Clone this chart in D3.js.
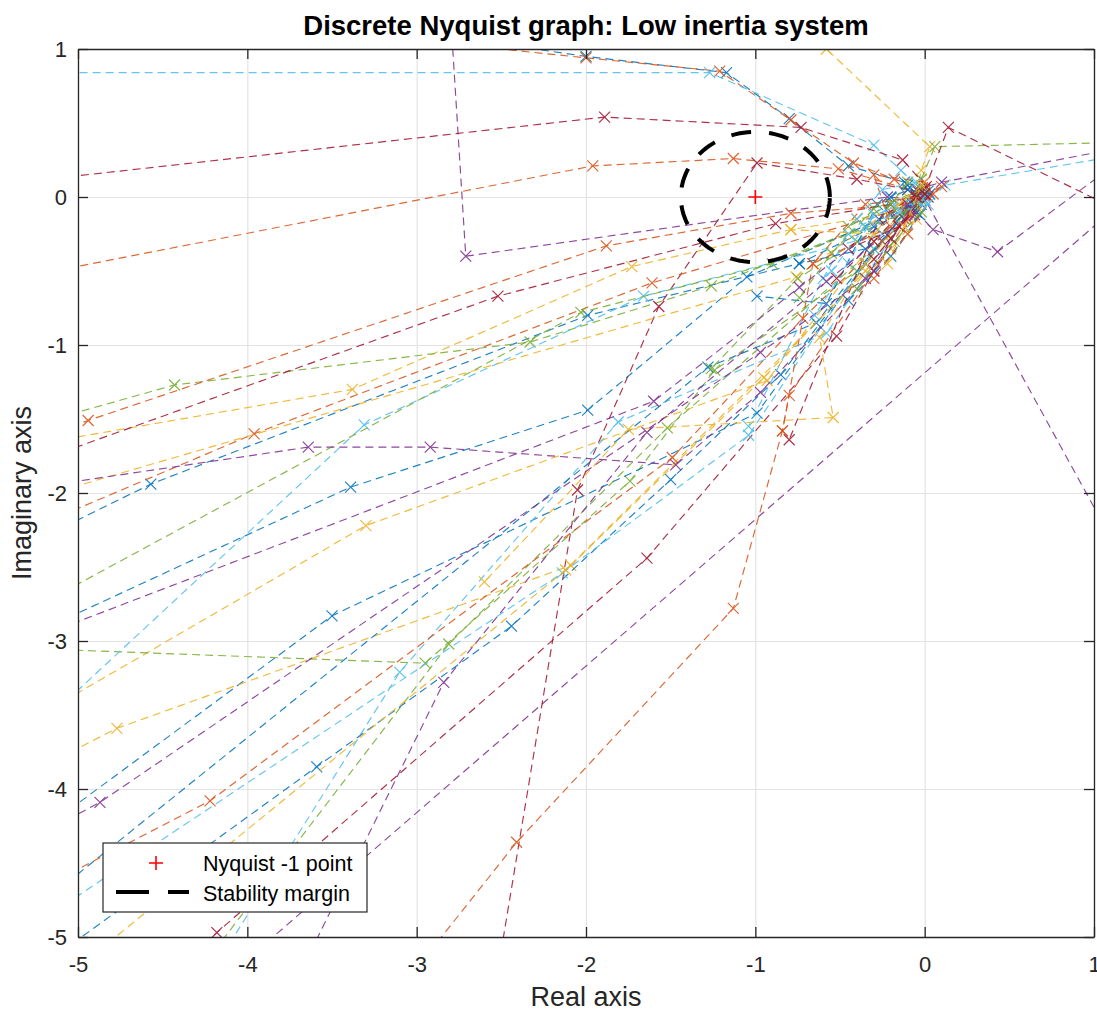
<!DOCTYPE html>
<html>
<head>
<meta charset="utf-8">
<script src="https://cdn.jsdelivr.net/npm/d3@7"></script>
<style>
  body { margin: 0; background: #fff; }
  svg { font-family: "Liberation Sans", Arial, Helvetica, sans-serif; }
</style>
</head>
<body>
<div id="chart"></div>
<script>
const WIDTH = 1097, HEIGHT = 1012;
const MARGIN = { top: 49, right: 3, bottom: 75, left: 78 };
const PLOT_W = WIDTH - MARGIN.left - MARGIN.right;
const PLOT_H = HEIGHT - MARGIN.top - MARGIN.bottom;

const TITLE = 'Discrete Nyquist graph: Low inertia system';
const X_LABEL = 'Real axis';
const Y_LABEL = 'Imaginary axis';
const LEGEND_LABELS = ['Nyquist -1 point', 'Stability margin'];

const xTicks = [-5, -4, -3, -2, -1, 0, 1];
const yTicks = [-5, -4, -3, -2, -1, 0, 1];

// matlab default colour order, one colour per run, cycling
const LINE_COLORS = ['#0072BD', '#D95319', '#EDB120', '#7E2F8E', '#77AC30', '#4DBEEE', '#A2142F'];

const criticalPoint = [-1, 0];
const marginRadius = 0.44;

// nyquist runs [re, im] (inner point first)
const run01 = [[0.02, 0.04], [-0.12, 0.10], [-0.45, 0.21], [-0.80, 0.53], [-1.17, 0.84], [-2.0, 0.95], [-2.6, 1.05]];
const run02 = [[0.0, 0.06], [-0.18, 0.12], [-0.42, 0.23], [-0.79, 0.52], [-1.21, 0.85], [-2.0, 0.94], [-3.0, 1.06]];
const run03 = [[-0.05, 0.02], [-0.02, 0.18], [0.03, 0.34], [-0.58, 1.0], [-0.75, 1.17]];
const run04 = [[0.0, -0.02], [-0.22, 0.0], [-2.71, -0.40], [-2.82, 1.6]];
const run05 = [[-0.08, -0.04], [-0.02, 0.12], [0.06, 0.34], [1.2, 0.37]];
const run06 = [[0.0, 0.03], [-0.14, 0.18], [-0.30, 0.35], [-1.27, 0.84], [-5.5, 0.84]];
const run07 = [[0.01, 0.07], [-0.13, 0.25], [-0.73, 0.47], [-1.89, 0.54], [-5.5, 0.08]];

const run08 = [[-0.02, -0.05], [-0.30, -0.20], [-0.74, -0.45], [-1.99, -0.80], [-4.57, -1.94], [-5.3, -2.35]];
const run09 = [[-0.03, 0.03], [-0.51, 0.19], [-1.13, 0.26], [-1.96, 0.21], [-5.5, -0.58]];
const run10 = [[-0.10, -0.08], [-0.40, -0.15], [-0.79, -0.22], [-1.73, -0.47], [-3.38, -1.30], [-5.3, -1.68]];
const run11 = [[1.2, 0.0], [-4.0, -5.15]];
const run12 = [[-0.05, -0.03], [-0.35, -0.20], [-1.26, -0.60], [-2.33, -0.98], [-4.43, -1.27], [-5.3, -1.55]];
const run13 = [[0.0, 0.0], [0.12, 0.08], [1.1, 0.27]];
const run14 = [[-0.10, 0.05], [-0.40, 0.12], [-0.99, 0.23], [-1.57, -0.74], [-2.05, -1.98], [-2.56, -5.5]];

const run15 = [[-0.05, 0.01], [-0.20, -0.12], [-1.05, -0.54], [-1.99, -1.44], [-3.39, -1.96], [-5.3, -2.97]];
const run16 = [[-0.12, -0.05], [-0.79, -0.11], [-1.88, -0.33], [-4.94, -1.51], [-5.4, -1.69]];
const run17 = [[-0.06, -0.02], [-0.30, -0.30], [-0.93, -1.24], [-3.30, -2.22], [-5.3, -3.55]];
const run18 = [[-0.02, 0.03], [1.05, -2.2]];
const run19 = [[-0.08, -0.06], [-0.40, -0.50], [-1.24, -1.17], [-1.74, -1.92], [-2.95, -3.15], [-5.3, -3.05]];
const run20 = [[-0.04, -0.02], [-0.25, -0.25], [-1.66, -0.67], [-3.31, -1.54], [-5.3, -3.65]];
const run21 = [[-0.10, -0.10], [-0.52, -0.94], [-1.64, -2.44], [-4.18, -4.97], [-4.6, -5.4]];

const run22 = [[-0.06, -0.03], [-0.25, -0.30], [-0.99, -1.46], [-3.50, -2.83], [-5.3, -4.35]];
const run23 = [[-0.02, 0.0], [-0.20, -0.10], [-1.61, -0.58], [-3.96, -1.60], [-5.3, -2.25]];
const run24 = [[-0.10, -0.12], [-0.35, -0.50], [-0.95, -1.22], [-2.09, -2.49], [-4.77, -3.59], [-5.3, -3.9]];
const run25 = [[-0.05, -0.10], [0.05, -0.22], [0.43, -0.37], [1.1, 0.2]];
const run26 = [[-0.06, -0.10], [-0.30, -0.35], [-1.52, -1.56], [-2.81, -3.02], [-4.4, -5.4]];
const run27 = [[-0.15, -0.20], [-0.58, -0.92], [-1.81, -1.52], [-3.10, -3.21], [-4.3, -5.4]];
const run28 = [[0.0, 0.05], [0.14, 0.47], [1.2, -0.12]];

const run29 = [[-0.08, -0.04], [-0.35, -0.45], [-0.85, -1.20], [-1.50, -1.91], [-2.44, -2.90], [-3.59, -3.85], [-5.1, -5.1]];
const run30 = [[-0.10, -0.15], [-0.30, -0.50], [-0.80, -1.34], [-0.84, -1.58], [-1.13, -2.78], [-2.41, -4.36], [-3.2, -5.5]];
const run31 = [[-0.10, 0.0], [-0.76, -0.54], [-5.3, -2.05]];
const run32 = [[-0.05, 0.05], [0.10, 0.10], [1.1, 0.32]];
const run33 = [[-0.10, -0.10], [-0.90, -0.45], [-2.03, -0.78], [-5.3, -2.8]];
const run34 = [[-0.05, -0.08], [-0.30, -0.35], [-1.04, -1.61], [-2.14, -2.54], [-5.3, -4.95]];
const run35 = [[-0.20, -0.05], [-0.88, -0.18], [-2.52, -0.67], [-5.4, -1.85]];

const run36 = [[-0.05, 0.0], [-0.64, -0.85], [-1.28, -1.15], [-5.3, -4.85]];
const run37 = [[-0.08, -0.12], [-0.25, -0.30], [-0.72, -0.82], [-1.49, -1.76], [-4.22, -4.08], [-5.1, -4.6]];
const run38 = [[-0.05, -0.15], [-0.20, -0.35], [-2.12, -2.52], [-5.1, -5.3]];
const run39 = [[-0.06, -0.12], [-0.30, -0.50], [-0.97, -1.32], [-1.47, -1.81], [-2.92, -1.69], [-3.64, -1.69], [-5.3, -1.97]];
const run40 = [[-0.02, -0.02], [-0.15, -0.12], [-0.40, -0.30], [-0.75, -0.55], [-1.26, -1.16]];
const run41 = [[0.0, 0.01], [-0.18, -0.05], [-0.45, -0.25], [-0.60, -0.55], [-1.04, -1.55]];
const run42 = [[-0.05, 0.02], [-0.27, -0.15], [-0.80, -1.64]];

const run43 = [[0.03, 0.02], [-0.10, 0.05], [-0.28, -0.05], [-0.58, -0.72], [-0.99, -0.67]];
const run44 = [[0.10, 0.07], [-0.05, 0.0], [-0.35, -0.05], [-0.66, -0.45], [-0.84, -1.58]];
const run45 = [[-0.05, -0.05], [-0.35, -0.45], [-0.62, -0.95], [-0.54, -1.49], [-1.75, -1.57], [-2.6, -2.6]];
const run46 = [[-0.08, -0.08], [-0.35, -0.55], [-0.97, -1.05], [-4.87, -4.09], [-5.3, -4.35]];
const run47 = [[-0.02, 0.05], [-0.30, -0.08], [-0.55, -0.38], [-0.74, -0.68]];
const run48 = [[0.0, -0.02], [-0.30, -0.12], [-0.45, -0.45], [-0.65, -0.80]];
const run49 = [[-0.05, 0.0], [-0.30, -0.30], [-0.52, -0.55]];

const run50 = [[-0.10, 0.08], [-0.20, 0.0], [-0.35, -0.35], [-0.74, -0.45]];
const run51 = [[0.0, 0.10], [-0.30, 0.15], [-0.20, -0.20], [-0.66, -0.45]];
const run52 = [[-0.15, -0.05], [-0.30, -0.25], [-0.79, -0.22]];
const run53 = [[-0.12, -0.15], [-0.58, -0.57], [-1.64, -1.59], [-2.84, -3.28], [-3.8, -5.5]];
const run54 = [[-0.10, 0.10], [-0.20, -0.05], [-0.45, -0.20]];
const run55 = [[-0.05, 0.10], [-0.25, 0.05], [-0.40, -0.15]];
const run56 = [[0.02, 0.0], [-0.15, -0.20], [-0.45, -0.35]];

const run57 = [[-0.03, -0.12], [-0.20, -0.40], [-0.45, -0.70]];
const run58 = [[0.05, 0.02], [-0.10, -0.25], [-0.30, -0.55]];
const run59 = [[-0.02, 0.08], [-0.12, -0.20], [-0.22, -0.45]];
const run60 = [[-0.10, -0.05], [-0.74, -0.61], [-1.60, -1.38], [-5.3, -3.0]];
const run61 = [[-0.02, -0.10], [-0.18, -0.30], [-0.40, -0.62]];
const run62 = [[0.02, -0.05], [-0.15, -0.10], [-0.35, -0.20], [-0.55, -0.50]];
const run63 = [[0.0, 0.02], [-0.20, -0.28], [-0.30, -0.42]];

const runs = [
  run01, run02, run03, run04, run05, run06, run07,
  run08, run09, run10, run11, run12, run13, run14,
  run15, run16, run17, run18, run19, run20, run21,
  run22, run23, run24, run25, run26, run27, run28,
  run29, run30, run31, run32, run33, run34, run35,
  run36, run37, run38, run39, run40, run41, run42,
  run43, run44, run45, run46, run47, run48, run49,
  run50, run51, run52, run53, run54, run55, run56,
  run57, run58, run59, run60, run61, run62, run63
];

const svg = d3.select('#chart')
  .append('svg')
    .attr('width', WIDTH)
    .attr('height', HEIGHT);

const g = svg.append('g')
  .attr('transform', `translate(${MARGIN.left}, ${MARGIN.top})`);

const x = d3.scaleLinear().domain([-5, 1]).range([0, PLOT_W]);
const y = d3.scaleLinear().domain([-5, 1]).range([PLOT_H, 0]);

svg.append('defs').append('clipPath')
  .attr('id', 'plot-clip')
  .append('rect')
    .attr('width', PLOT_W)
    .attr('height', PLOT_H);

// grid
g.append('g')
  .attr('transform', `translate(0, ${PLOT_H})`)
  .call(d3.axisBottom(x).tickValues(xTicks).tickSize(-PLOT_H).tickFormat(''))
  .call(s => s.select('.domain').remove())
  .call(s => s.selectAll('text').remove())
  .selectAll('line').attr('stroke', '#e3e3e3').attr('stroke-width', 1.2);

g.append('g')
  .call(d3.axisLeft(y).tickValues(yTicks).tickSize(-PLOT_W).tickFormat(''))
  .call(s => s.select('.domain').remove())
  .call(s => s.selectAll('text').remove())
  .selectAll('line').attr('stroke', '#e3e3e3').attr('stroke-width', 1.2);

// nyquist runs
const plot = g.append('g').attr('clip-path', 'url(#plot-clip)');
const line = d3.line().x(d => x(d[0])).y(d => y(d[1]));
const colorOf = i => LINE_COLORS[i % LINE_COLORS.length];

runs.forEach((run, i) => {
  const runG = plot.append('g').attr('opacity', 0.88);
  runG.append('path')
    .attr('d', line(run))
    .attr('fill', 'none')
    .attr('stroke', colorOf(i))
    .attr('stroke-width', 1.15)
    .attr('stroke-dasharray', '8 5');
  runG.selectAll('path.mark')
    .data(run)
    .enter()
    .append('path')
      .attr('class', 'mark')
      .attr('transform', d => `translate(${x(d[0])}, ${y(d[1])})`)
      .attr('d', 'M-5.5,-5.5L5.5,5.5M-5.5,5.5L5.5,-5.5')
      .attr('fill', 'none')
      .attr('stroke', colorOf(i))
      .attr('stroke-width', 1.2);
});

// stability margin circle
const circlePts = d3.range(0, 361, 3).map(a => {
  const t = a * Math.PI / 180;
  return [criticalPoint[0] + marginRadius * Math.cos(t), criticalPoint[1] + marginRadius * Math.sin(t)];
});
plot.append('path')
  .attr('d', line(circlePts))
  .attr('fill', 'none')
  .attr('stroke', '#000')
  .attr('stroke-width', 4)
  .attr('stroke-dasharray', '20 18');

// -1 point
plot.append('path')
  .attr('transform', `translate(${x(criticalPoint[0])}, ${y(criticalPoint[1])})`)
  .attr('d', 'M-7,0H7M0,-7V7')
  .attr('stroke', '#ff0000')
  .attr('stroke-width', 1.6);

// axes, ticks inside on all four sides
const tickText = d => d < 0 ? '-' + Math.abs(d) : String(d);
const styleAxis = s => {
  s.select('.domain').attr('stroke', '#262626').attr('stroke-width', 1.3);
  s.selectAll('.tick line').attr('stroke', '#262626').attr('stroke-width', 1.3);
  s.selectAll('text').attr('fill', '#262626').attr('font-size', null).attr('font-family', null).style('font-size', '22px');
};

g.append('g')
  .attr('transform', `translate(0, ${PLOT_H})`)
  .call(d3.axisBottom(x).tickValues(xTicks).tickSizeInner(-10).tickSizeOuter(0).tickPadding(19).tickFormat(tickText))
  .call(styleAxis);

g.append('g')
  .call(d3.axisLeft(y).tickValues(yTicks).tickSizeInner(-10).tickSizeOuter(0).tickPadding(11).tickFormat(tickText))
  .call(styleAxis);

g.append('g')
  .call(d3.axisTop(x).tickValues(xTicks).tickSizeInner(-10).tickSizeOuter(0).tickFormat(''))
  .call(s => s.selectAll('text').remove())
  .call(styleAxis);

g.append('g')
  .attr('transform', `translate(${PLOT_W}, 0)`)
  .call(d3.axisRight(y).tickValues(yTicks).tickSizeInner(-10).tickSizeOuter(0).tickFormat(''))
  .call(s => s.selectAll('text').remove())
  .call(styleAxis);

// titles
svg.append('text')
  .attr('x', MARGIN.left + PLOT_W / 2)
  .attr('y', 35)
  .attr('text-anchor', 'middle')
  .attr('font-weight', 'bold')
  .attr('font-size', 27.5)
  .attr('fill', '#000')
  .text(TITLE);

svg.append('text')
  .attr('x', MARGIN.left + PLOT_W / 2)
  .attr('y', 1006)
  .attr('text-anchor', 'middle')
  .attr('font-size', 27)
  .attr('fill', '#262626')
  .text(X_LABEL);

svg.append('text')
  .attr('transform', `translate(31, ${MARGIN.top + PLOT_H / 2}) rotate(-90)`)
  .attr('text-anchor', 'middle')
  .attr('font-size', 27)
  .attr('fill', '#262626')
  .text(Y_LABEL);

// legend
const legend = svg.append('g').attr('transform', 'translate(103, 843)');
legend.append('rect')
  .attr('width', 264)
  .attr('height', 69)
  .attr('fill', '#fff')
  .attr('stroke', '#262626')
  .attr('stroke-width', 1.2);

legend.append('path')
  .attr('transform', 'translate(53, 20)')
  .attr('d', 'M-7,0H7M0,-7V7')
  .attr('stroke', '#ff0000')
  .attr('stroke-width', 1.6);

legend.append('line')
  .attr('x1', 13).attr('x2', 86)
  .attr('y1', 49).attr('y2', 49)
  .attr('stroke', '#000')
  .attr('stroke-width', 4)
  .attr('stroke-dasharray', '33 19');

legend.selectAll('text.lbl')
  .data(LEGEND_LABELS)
  .enter()
  .append('text')
    .attr('class', 'lbl')
    .attr('x', 100)
    .attr('y', (d, i) => 28 + i * 30)
    .attr('font-size', 21.5)
    .attr('fill', '#000')
    .text(d => d);
</script>
</body>
</html>
